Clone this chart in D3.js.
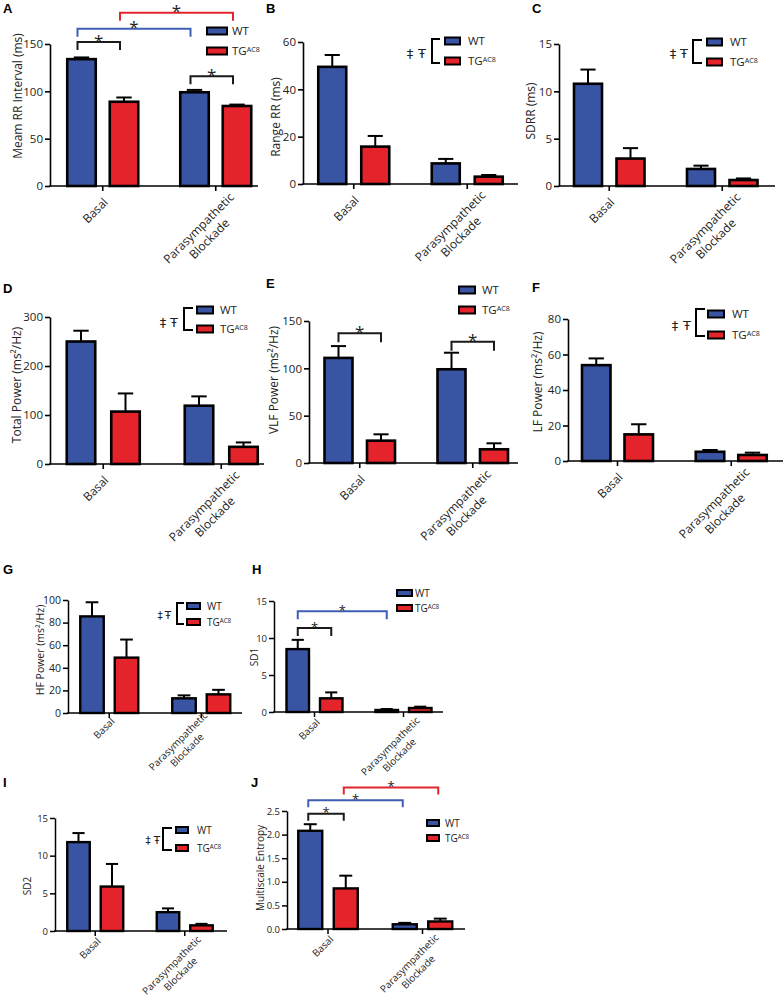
<!DOCTYPE html>
<html><head><meta charset="utf-8">
<script src="https://cdn.jsdelivr.net/npm/d3@7"></script>
<style>body{margin:0;background:#fff}svg{display:block}</style>
</head><body>
<svg id="c" width="784" height="1003"></svg>
<script>
// ---------- DATA ----------
const categories = ["Basal", "Parasympathetic|Blockade"];
const seriesKeys = ["WT", "TG"];
const seriesColors = {WT: "#3a54a4", TG: "#e5232a"};

// A  Mean RR interval
const rrWT = [134, 99], rrWTerr = [1.8, 2.5], rrTG = [89, 84.5], rrTGerr = [4.5, 1.5];
const rrTicks = [0, 50, 100, 150];
const rrSig = [
  {a: [0, 0], b: [0, 1], level: 152, color: "black"},
  {a: [0, 0], b: [1, 0], level: 166, color: "blue"},
  {a: [0, 1], b: [1, 1], level: 183, color: "red"},
  {a: [1, 0], b: [1, 1], level: 116, color: "black"}
];
// B  Range RR
const rangeWT = [49.5, 8.7], rangeWTerr = [5, 1.9], rangeTG = [15.8, 3.1], rangeTGerr = [4.5, 0.7];
const rangeTicks = [0, 20, 40, 60];
// C  SDRR
const sdrrWT = [10.8, 1.8], sdrrWTerr = [1.5, 0.35], sdrrTG = [2.9, 0.63], sdrrTGerr = [1.1, 0.17];
const sdrrTicks = [0, 5, 10, 15];
// D  Total power
const totWT = [250, 119], totWTerr = [22, 19], totTG = [107, 35], totTGerr = [37, 9];
const totTicks = [0, 100, 200, 300];
// E  VLF power
const vlfWT = [111, 99], vlfWTerr = [12.5, 17.5], vlfTG = [23.6, 14.5], vlfTGerr = [6.7, 6.3];
const vlfTicks = [0, 50, 100, 150];
const vlfSig = [
  {a: [0, 0], b: [0, 1], level: 137, color: "black"},
  {a: [1, 0], b: [1, 1], level: 128, color: "black"}
];
// F  LF power
const lfWT = [54, 5.2], lfWTerr = [3.8, 1], lfTG = [15, 3.4], lfTGerr = [5.7, 1.3];
const lfTicks = [0, 20, 40, 60, 80];
// G  HF power
const hfWT = [85.5, 13], hfWTerr = [12.5, 2.6], hfTG = [49, 16.5], hfTGerr = [16, 4];
const hfTicks = [0, 20, 40, 60, 80, 100];
// H  SD1
const sd1WT = [8.5, 0.27], sd1WTerr = [1.25, 0.13], sd1TG = [1.85, 0.54], sd1TGerr = [0.8, 0.18];
const sd1Ticks = [0, 5, 10, 15];
const sd1Sig = [
  {a: [0, 0], b: [1, 0], level: 13.6, color: "blue"},
  {a: [0, 0], b: [0, 1], level: 11.35, color: "black"}
];
// I  SD2
const sd2WT = [11.8, 2.5], sd2WTerr = [1.2, 0.5], sd2TG = [5.9, 0.75], sd2TGerr = [3.0, 0.2];
const sd2Ticks = [0, 5, 10, 15];
// J  Multiscale entropy
const mseWT = [2.08, 0.1], mseWTerr = [0.14, 0.03], mseTG = [0.86, 0.16], mseTGerr = [0.27, 0.06];
const mseTicks = [0, 0.5, 1.0, 1.5, 2.0, 2.5];
const mseSig = [
  {a: [0, 1], b: [1, 1], level: 3.0, color: "red"},
  {a: [0, 0], b: [1, 0], level: 2.73, color: "blue"},
  {a: [0, 0], b: [0, 1], level: 2.44, color: "black"}
];

// ---------- LAYOUT ----------
const bracketColors = {black: "#1a1a1a", blue: "#3f5fb4", red: "#e2262c"};
const big = {tick: 11.5, title: 12, cat: 12, leg: 11.5, star: 17, dag: 13, lh: 15, ax: 1.6, bar: 2.6};
const mid = {tick: 10.5, title: 10.5, cat: 10, leg: 10, star: 13, dag: 10.5, lh: 12.5, ax: 1.5, bar: 2.4};
const sml = {tick: 9.5, title: 10, cat: 10, leg: 10, star: 13, dag: 10.5, lh: 12.5, ax: 1.5, bar: 2.4};
const catBig = [[6, 17], [19, 12]], catSml = [[6, 11], [17, 9]];

const panels = [
 {letter: "A", title: "Meam RR Interval (ms)", wt: rrWT, wtE: rrWTerr, tg: rrTG, tgE: rrTGerr, ticks: rrTicks, max: 150, sig: rrSig, fmt: d3.format("d"),
  L: {lp: [3, 13], ax: 50, axEnd: 258, y0: 186, yTop: 44, c0: 102.75, step: 113, d: 42.5, bw: 28.5, tx: 18, ty: 96, f: big, cat: catBig, sigDx: -4, legLen: 8,
      leg: {type: "s", sx: 207, sw: 20, sh: 7, y: [31, 51], tx: 232}}},
 {letter: "B", title: "Range RR (ms)", wt: rangeWT, wtE: rangeWTerr, tg: rangeTG, tgE: rangeTGerr, ticks: rangeTicks, max: 60, sig: [], fmt: d3.format("d"),
  L: {lp: [266, 13], ax: 303, axEnd: 518, y0: 184, yTop: 42, c0: 353.75, step: 113.5, d: 43, bw: 28, tx: 276, ty: 117, f: big, cat: catBig,
      leg: {type: "d", sx: 445, sw: 15, sh: 7, y: [41, 61], tx: 468, bx: 432, bt: 39, bb: 63, tip: 440, dg: [410, 422], dy: 53}}},
 {letter: "C", title: "SDRR (ms)", wt: sdrrWT, wtE: sdrrWTerr, tg: sdrrTG, tgE: sdrrTGerr, ticks: sdrrTicks, max: 15, sig: [], fmt: d3.format("d"),
  L: {lp: [532, 13], ax: 559, axEnd: 775, y0: 186, yTop: 44, c0: 609.25, step: 113, d: 42.5, bw: 28, tx: 531, ty: 111, f: big, cat: catBig,
      leg: {type: "d", sx: 707, sw: 15, sh: 7, y: [42, 62], tx: 730, bx: 693, bt: 40, bb: 63, tip: 702, dg: [673, 684], dy: 53}}},
 {letter: "D", title: "Total Power (ms²/Hz)", wt: totWT, wtE: totWTerr, tg: totTG, tgE: totTGerr, ticks: totTicks, max: 300, sig: [], fmt: d3.format("d"),
  L: {lp: [3, 293], ax: 50, axEnd: 264, y0: 464, yTop: 317, c0: 103.25, step: 118, d: 44.5, bw: 28.5, tx: 17, ty: 385, f: big, cat: catBig,
      leg: {type: "d", sx: 197, sw: 16, sh: 7, y: [310, 329], tx: 220, bx: 184, bt: 308, bb: 330, tip: 193, dg: [163, 174], dy: 322}}},
 {letter: "E", title: "VLF Power (ms²/Hz)", wt: vlfWT, wtE: vlfWTerr, tg: vlfTG, tgE: vlfTGerr, ticks: vlfTicks, max: 150, sig: vlfSig, fmt: d3.format("d"),
  L: {lp: [266, 288], ax: 309, axEnd: 518, y0: 463, yTop: 321, c0: 359.75, step: 113, d: 42.5, bw: 28, tx: 274, ty: 380, f: big, cat: catBig, sigDx: 0, legLen: 9,
      leg: {type: "s", sx: 459, sw: 16, sh: 7, y: [290, 310], tx: 482}}},
 {letter: "F", title: "LF Power (ms²/Hz)", wt: lfWT, wtE: lfWTerr, tg: lfTG, tgE: lfTGerr, ticks: lfTicks, max: 80, sig: [], fmt: d3.format("d"),
  L: {lp: [532, 292], ax: 568, axEnd: 783, y0: 461, yTop: 319, c0: 617.5, step: 113.75, d: 42.5, bw: 28.5, tx: 538, ty: 382, f: big, cat: catBig,
      leg: {type: "d", sx: 708, sw: 16, sh: 7, y: [314, 335], tx: 732, bx: 696, bt: 309, bb: 336, tip: 705, dg: [675, 687], dy: 325}}},
 {letter: "G", title: "HF Power (ms²/Hz)", wt: hfWT, wtE: hfWTerr, tg: hfTG, tgE: hfTGerr, ticks: hfTicks, max: 100, sig: [], fmt: d3.format("d"),
  L: {lp: [3, 574], ax: 68, axEnd: 242, y0: 713, yTop: 600, c0: 109.25, step: 92, d: 34.5, bw: 23.5, tx: 40, ty: 650, f: mid, cat: [[6, 9], [7, 3]],
      leg: {type: "d", sx: 187, sw: 13, sh: 6, y: [606, 622], tx: 207, bx: 177, bt: 603, bb: 624, tip: 184, dg: [160, 168], dy: 615}}},
 {letter: "H", title: "SD1", wt: sd1WT, wtE: sd1WTerr, tg: sd1TG, tgE: sd1TGerr, ticks: sd1Ticks, max: 15, sig: sd1Sig, fmt: d3.format("d"),
  L: {lp: [252, 574], ax: 274, axEnd: 443, y0: 712, yTop: 601, c0: 314.5, step: 89, d: 33.5, bw: 22.5, tx: 254, ty: 657, f: sml, cat: catSml, sigDx: 0, legLen: 8,
      leg: {type: "s", sx: 397, sw: 15, sh: 6, y: [593, 608], tx: 415}}},
 {letter: "I", title: "SD2", wt: sd2WT, wtE: sd2WTerr, tg: sd2TG, tgE: sd2TGerr, ticks: sd2Ticks, max: 15, sig: [], fmt: d3.format("d"),
  L: {lp: [3, 787], ax: 55, axEnd: 227, y0: 931, yTop: 818, c0: 95.25, step: 89.5, d: 33.5, bw: 22.5, tx: 27, ty: 886, f: sml, cat: catSml,
      leg: {type: "d", sx: 176, sw: 12, sh: 6, y: [830, 848], tx: 197, bx: 163, bt: 828, bb: 850, tip: 172, dg: [148, 157], dy: 840}}},
 {letter: "J", title: "Multiscale Entropy", wt: mseWT, wtE: mseWTerr, tg: mseTG, tgE: mseTGerr, ticks: mseTicks, max: 2.5, sig: mseSig, fmt: d3.format(".1f"),
  L: {lp: [251, 787], ax: 287, axEnd: 465, y0: 929, yTop: 811, c0: 328, step: 94.5, d: 35.5, bw: 24, tx: 260, ty: 868, f: sml, cat: catSml, sigDx: -2, legLen: 7,
      leg: {type: "s", sx: 427, sw: 12, sh: 6, y: [823, 838], tx: 445}}}
];

const FONT = "'Open Sans', 'Noto Sans', sans-serif";
const svg = d3.select("#c");

function tgLabel(sel) {
  sel.append("tspan").text("TG");
  sel.append("tspan").attr("font-size", "62%").attr("dy", "-0.45em").text("AC8");
}

function drawPanel(p) {
  const L = p.L, f = L.f;
  const g = svg.append("g").attr("font-family", FONT);
  const y = d3.scaleLinear().domain([0, p.max]).range([L.y0, L.yTop]);
  const x = d3.scaleBand().domain(categories).range([L.c0 - L.step / 2, L.c0 + 1.5 * L.step]).padding(0);
  const pi = 1 - L.bw / L.d;
  const po = (L.step / L.d - 2 + pi) / 2;
  const xs = d3.scaleBand().domain(seriesKeys).range([0, x.bandwidth()]).paddingInner(pi).paddingOuter(po);
  const vals = {WT: p.wt, TG: p.tg}, errs = {WT: p.wtE, TG: p.tgE};
  const cx = (ci, s) => x(categories[ci]) + xs(s) + xs.bandwidth() / 2;

  // panel letter
  svg.append("text").attr("x", L.lp[0]).attr("y", L.lp[1]).attr("font-family", "'Liberation Sans', Arial, sans-serif")
    .attr("font-weight", "bold").attr("font-size", 13).text(p.letter);

  // bars
  const data = [];
  categories.forEach((c, ci) => seriesKeys.forEach(s => data.push({c, ci, s, v: vals[s][ci], e: errs[s][ci]})));
  g.selectAll("line.err").data(data).join("line").attr("class", "err")
    .attr("x1", d => cx(d.ci, d.s)).attr("x2", d => cx(d.ci, d.s))
    .attr("y1", d => y(d.v)).attr("y2", d => y(d.v + d.e))
    .attr("stroke", "#000").attr("stroke-width", 2);
  g.selectAll("line.cap").data(data).join("line").attr("class", "cap")
    .attr("x1", d => cx(d.ci, d.s) - xs.bandwidth() * 0.27).attr("x2", d => cx(d.ci, d.s) + xs.bandwidth() * 0.27)
    .attr("y1", d => y(d.v + d.e)).attr("y2", d => y(d.v + d.e))
    .attr("stroke", "#000").attr("stroke-width", 2);
  g.selectAll("rect.bar").data(data).join("rect").attr("class", "bar")
    .attr("x", d => x(d.c) + xs(d.s)).attr("width", xs.bandwidth())
    .attr("y", d => y(d.v)).attr("height", d => L.y0 - y(d.v))
    .attr("fill", d => seriesColors[d.s]).attr("stroke", "#000").attr("stroke-width", f.bar);

  // y axis
  const ya = g.append("g").attr("transform", `translate(${L.ax},0)`)
    .call(d3.axisLeft(y).tickValues(p.ticks).tickFormat(p.fmt).tickSize(5).tickSizeOuter(0).tickPadding(2));
  ya.select(".domain").attr("stroke-width", f.ax);
  ya.selectAll(".tick line").attr("stroke-width", f.ax);
  ya.selectAll("text").attr("font-size", f.tick).attr("font-family", FONT).attr("fill", "#222");

  // x axis
  const xa = g.append("g").attr("transform", `translate(0,${L.y0})`)
    .call(d3.axisBottom(x).tickSize(5).tickFormat(""));
  xa.select(".domain").remove();
  xa.selectAll(".tick line").attr("stroke-width", f.ax);
  g.append("line").attr("x1", L.ax - 0.8).attr("x2", L.axEnd).attr("y1", L.y0).attr("y2", L.y0)
    .attr("stroke", "#000").attr("stroke-width", f.ax);

  // category labels
  categories.forEach((c, ci) => {
    const tx = x(c) + x.bandwidth() / 2 + L.cat[ci][0], ty = L.y0 + L.cat[ci][1];
    const lg = g.append("g").attr("transform", `translate(${tx},${ty}) rotate(-45)`);
    const lines = c.split("|");
    const t1 = lg.append("text").attr("text-anchor", "end").attr("font-size", f.cat).attr("fill", "#222").text(lines[0]);
    if (lines.length > 1) {
      const w1 = t1.node().getComputedTextLength();
      lg.append("text").attr("text-anchor", "middle").attr("x", -w1 / 2).attr("y", f.lh)
        .attr("font-size", f.cat).attr("fill", "#222").text(lines[1]);
    }
  });

  // y title
  g.append("text").attr("transform", `translate(${L.tx},${L.ty}) rotate(-90)`).attr("text-anchor", "middle")
    .attr("dy", "0.35em").attr("font-size", f.title).attr("fill", "#222").text(p.title);

  // significance brackets
  p.sig.forEach(s => {
    const x1 = cx(s.a[0], seriesKeys[s.a[1]]) + L.sigDx, x2 = cx(s.b[0], seriesKeys[s.b[1]]) + L.sigDx;
    const yy = y(s.level);
    g.append("path").attr("d", `M${x1},${yy + L.legLen}V${yy}H${x2}V${yy + L.legLen}`)
      .attr("fill", "none").attr("stroke", bracketColors[s.color]).attr("stroke-width", 2);
    g.append("text").attr("x", (x1 + x2) / 2).attr("y", yy + f.star * 0.27).attr("text-anchor", "middle")
      .attr("font-size", f.star).attr("fill", "#222").text("*");
  });

  // legend
  const lgd = L.leg;
  seriesKeys.forEach((s, i) => {
    g.append("rect").attr("x", lgd.sx).attr("y", lgd.y[i] - lgd.sh / 2).attr("width", lgd.sw).attr("height", lgd.sh)
      .attr("fill", seriesColors[s]).attr("stroke", "#000").attr("stroke-width", 2);
    const t = g.append("text").attr("x", lgd.tx).attr("y", lgd.y[i]).attr("dy", "0.38em")
      .attr("font-size", f.leg).attr("fill", "#222");
    if (s === "WT") t.text("WT"); else tgLabel(t);
  });
  if (lgd.type === "d") {
    g.append("path").attr("d", `M${lgd.tip},${lgd.bt}H${lgd.bx}V${lgd.bb}H${lgd.tip}`)
      .attr("fill", "none").attr("stroke", "#000").attr("stroke-width", 2);
    ["‡", "Ŧ"].forEach((ch, i) => {
      g.append("text").attr("x", lgd.dg[i]).attr("y", lgd.dy).attr("dy", "0.35em").attr("text-anchor", "middle")
        .attr("font-family", "'DejaVu Sans', sans-serif")
        .attr("font-size", f.dag).attr("fill", "#222").text(ch);
    });
  }
}

panels.forEach(drawPanel);
</script>
</body></html>
